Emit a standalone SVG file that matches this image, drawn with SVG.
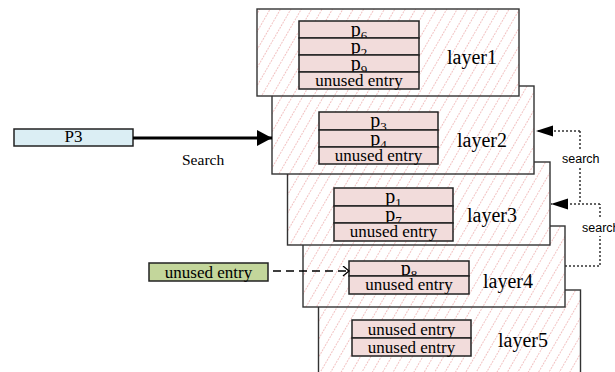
<svg xmlns="http://www.w3.org/2000/svg" width="615" height="372" viewBox="0 0 615 372">
<defs>
<pattern id="hatch" width="9" height="9" patternUnits="userSpaceOnUse" patternTransform="rotate(30)">
<rect width="9" height="9" fill="#fff"/>
<line x1="4.5" y1="0" x2="4.5" y2="9" stroke="#f2c2c2" stroke-width="1" stroke-dasharray="2 1"/>
</pattern>
<marker id="bigTri" markerUnits="userSpaceOnUse" markerWidth="16" markerHeight="17" refX="15" refY="8" orient="auto">
<path d="M0,0 L15,8 L0,16 z" fill="#000"/>
</marker>
<marker id="smTri" markerUnits="userSpaceOnUse" markerWidth="18" markerHeight="12" refX="17" refY="5.5" orient="auto">
<path d="M0,0 L17,5.5 L0,11 z" fill="#000"/>
</marker>
<marker id="open" markerUnits="userSpaceOnUse" markerWidth="9" markerHeight="12" refX="7" refY="5.5" orient="auto">
<path d="M1,0.5 L7,5.5 L1,10.5" fill="none" stroke="#000" stroke-width="1.3"/>
</marker>
</defs>
<style>
.layer{fill:url(#hatch);stroke:#333;stroke-width:1.4}
.e{fill:#f2dcdb;stroke:#222;stroke-width:1.5}
.t{font-family:"Liberation Serif","Times New Roman",serif;font-size:17px;fill:#000;text-anchor:middle}
.p{font-family:"Liberation Serif","Times New Roman",serif;font-size:20px;fill:#000;text-anchor:middle}
.sub{font-size:13px}
.lbl{font-family:"Liberation Serif","Times New Roman",serif;font-size:20px;fill:#000}
.srch{font-family:"Liberation Sans",Arial,sans-serif;font-size:12.5px;fill:#000}
.dot{fill:none;stroke:#333;stroke-width:1.5;stroke-dasharray:2 2}
</style>
<rect width="615" height="372" fill="#fff"/>

<g id="layer5">
<rect class="layer" x="318.5" y="290" width="262" height="100"/>
<rect class="e" x="352" y="320" width="119" height="18"/>
<text class="t" x="411.5" y="335">unused entry</text>
<rect class="e" x="352" y="338" width="119" height="18"/>
<text class="t" x="411.5" y="352.5">unused entry</text>
<text class="lbl" x="498" y="347">layer5</text>
</g>

<g id="layer4">
<rect class="layer" x="303" y="226" width="262" height="81"/>
<rect class="e" x="349" y="261" width="120" height="15"/>
<text class="p" x="409" y="275">p<tspan class="sub" dy="4">8</tspan></text>
<rect class="e" x="349" y="276" width="120" height="18"/>
<text class="t" x="409" y="290">unused entry</text>
<text class="lbl" x="483" y="288">layer4</text>
</g>

<g id="layer3">
<rect class="layer" x="287.5" y="162" width="262.5" height="83"/>
<rect class="e" x="334" y="188" width="119" height="18"/>
<text class="p" x="393.5" y="203">p<tspan class="sub" dy="4">1</tspan></text>
<rect class="e" x="334" y="206" width="119" height="17"/>
<text class="p" x="393.5" y="221">p<tspan class="sub" dy="4">7</tspan></text>
<rect class="e" x="334" y="223" width="119" height="18"/>
<text class="t" x="393.5" y="237">unused entry</text>
<text class="lbl" x="467" y="222">layer3</text>
</g>

<g id="layer2">
<rect class="layer" x="272" y="86" width="262" height="88"/>
<rect class="e" x="319" y="112" width="119" height="18"/>
<text class="p" x="378.5" y="127">p<tspan class="sub" dy="4">3</tspan></text>
<rect class="e" x="319" y="130" width="119" height="17"/>
<text class="p" x="378.5" y="145">p<tspan class="sub" dy="4">4</tspan></text>
<rect class="e" x="319" y="147" width="119" height="17"/>
<text class="t" x="378.5" y="161">unused entry</text>
<text class="lbl" x="457" y="147">layer2</text>
</g>

<g id="layer1">
<rect class="layer" x="257" y="9" width="262" height="87"/>
<rect class="e" x="299" y="21" width="120" height="17"/>
<text class="p" x="359" y="36">p<tspan class="sub" dy="4">6</tspan></text>
<rect class="e" x="299" y="38" width="120" height="17"/>
<text class="p" x="359" y="53">p<tspan class="sub" dy="4">2</tspan></text>
<rect class="e" x="299" y="55" width="120" height="17"/>
<text class="p" x="359" y="70">p<tspan class="sub" dy="4">9</tspan></text>
<rect class="e" x="299" y="72" width="120" height="17"/>
<text class="t" x="359" y="86">unused entry</text>
<text class="lbl" x="447" y="64">layer1</text>
</g>

<g id="p3">
<rect x="14" y="129" width="119" height="17" fill="#dbeef4" stroke="#222" stroke-width="1.5"/>
<text class="t" x="73.5" y="142">P3</text>
</g>

<g id="free-entry">
<rect x="149" y="263" width="119" height="18" fill="#c3d69b" stroke="#222" stroke-width="1.5"/>
<text class="t" x="208.5" y="278">unused entry</text>
</g>

<g id="connectors">
<line x1="133" y1="138" x2="272" y2="138" stroke="#000" stroke-width="3" marker-end="url(#bigTri)"/>
<text x="182" y="165" font-family="Liberation Serif,Times New Roman,serif" font-size="15.5">Search</text>
<line x1="273" y1="271" x2="349" y2="271" stroke="#000" stroke-width="1.5" stroke-dasharray="8 5" marker-end="url(#open)"/>
<path class="dot" d="M580,131 H536" marker-end="url(#smTri)"/>
<path class="dot" d="M580,131 V151"/>
<path class="dot" d="M580,168 V204"/>
<text class="srch" x="562" y="163">search</text>
<path class="dot" d="M600,204 H551" marker-end="url(#smTri)"/>
<path class="dot" d="M565,266 H600 V236"/>
<path class="dot" d="M600,217 V204"/>
<text class="srch" x="582" y="231.5">search</text>
</g>
</svg>
